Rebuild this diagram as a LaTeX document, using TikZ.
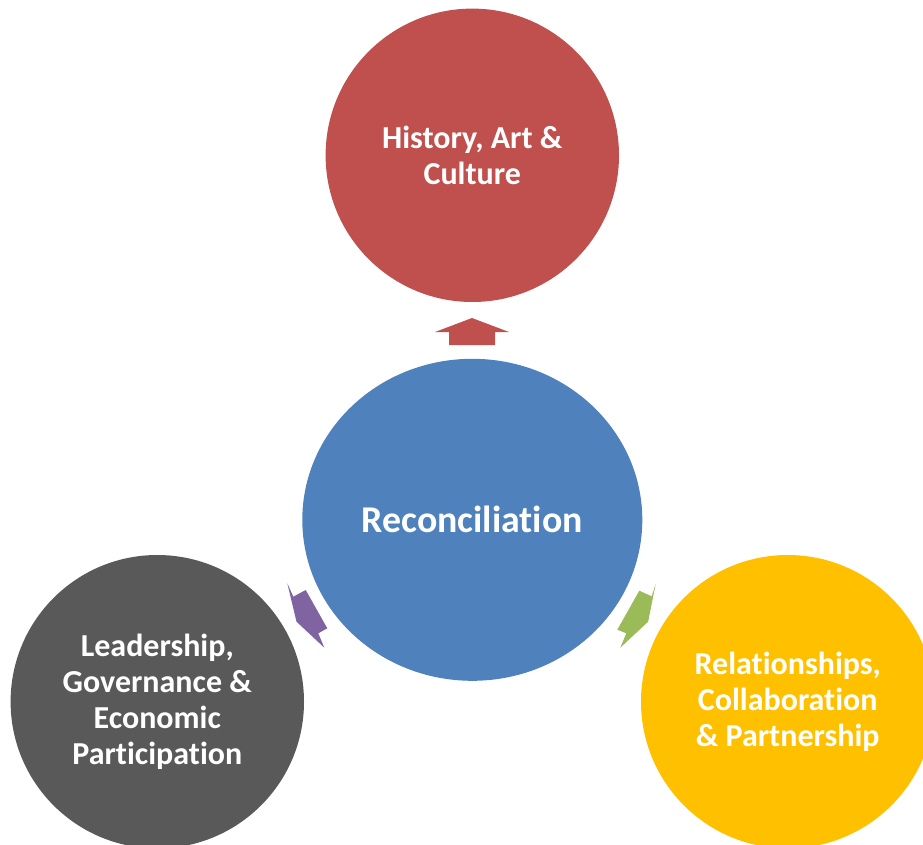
\documentclass[tikz,border=0pt]{standalone}
\usepackage{fontspec}
\setmainfont{Carlito}[Ligatures=NoCommon]
\usetikzlibrary{shapes.geometric}
\definecolor{histred}{HTML}{C0504D}
\definecolor{recblue}{HTML}{4F81BD}
\definecolor{leadgray}{HTML}{595959}
\definecolor{relgold}{HTML}{FFC000}
\definecolor{arrpurple}{HTML}{8064A2}
\definecolor{arrgreen}{HTML}{9BBB59}
\tikzset{
  bubble/.style={circle, minimum size=293.4pt, inner sep=0pt, text=white,
    align=center, font=\fontsize{32}{36}\selectfont\bfseries},
  hub/.style={ellipse, minimum width=340pt, minimum height=322pt, inner sep=0pt,
    text=white, font=\fontsize{37.8}{42}\selectfont\bfseries},
  blockarrow/.style={draw=none}
}
\begin{document}
\begin{tikzpicture}[x=1pt,y=-1pt]
\useasboundingbox (0,0) rectangle (923,845);
\clip (0,0) rectangle (923,845);

% outer topics
\node[bubble, fill=histred] (hist) at (472.3,155.3) {History, Art \&\\Culture};
\node[bubble, fill=leadgray] (lead) at (157.3,701.7) {Leadership,\\Governance \&\\Economic\\Participation};
\node[bubble, fill=relgold] (rel) at (787.7,701.7) {Relationships,\\Collaboration\\\& Partnership};

% central hub
\node[hub, fill=recblue] (rec) at (472.3,519.8) {Reconciliation};

% block arrows from the hub outwards
\fill[blockarrow, histred] (472,318) -- (509,332) -- (495,332) -- (495,345)
  -- (449,345) -- (449,332) -- (435,332) -- cycle;
\fill[blockarrow, arrpurple] (287.3,583.3) -- (293.3,596.7) -- (305.7,590)
  -- (327.3,628.3) -- (318.3,633.3) -- (324.3,647.7) -- (296.5,621.7) -- cycle;
\fill[blockarrow, arrgreen] (655.7,584) -- (651.7,596.3) -- (639.3,590.7)
  -- (617.3,629.7) -- (626.3,633.3) -- (620.3,647.7) -- (648.1,621.7) -- cycle;
\end{tikzpicture}
\end{document}
